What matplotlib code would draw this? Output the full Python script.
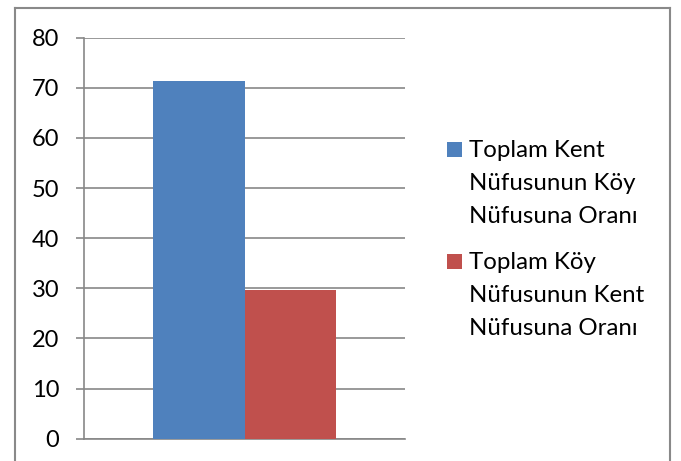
import matplotlib.pyplot as plt
from matplotlib.lines import Line2D
from matplotlib.patches import Rectangle

plt.rcParams['font.family'] = ['Lato', 'DejaVu Sans']

series = ['Toplam Kent\nNüfusunun Köy\nNüfusuna Oranı',
          'Toplam Köy\nNüfusunun Kent\nNüfusuna Oranı']
values = [71.3, 29.7]
colors = ['#4F81BD', '#C0504D']
yticks = [0, 10, 20, 30, 40, 50, 60, 70, 80]

W, H = 681, 461
fig = plt.figure(figsize=(W / 100, H / 100), dpi=100)
ax = fig.add_axes([84 / W, 1 - 438.7 / H, 321 / W, 401 / H])

bw = 91.5 / 321
for i, (lab, v, c) in enumerate(zip(series, values, colors)):
    ax.bar(0.5 + (i - 0.5) * bw, v, width=bw, color=c, label=lab, zorder=3)

ax.set_xlim(0, 1)
ax.set_ylim(0, 80)
ax.set_yticks(yticks)
ax.set_xticks([])
ax.grid(axis='y', color='#878787', linewidth=1.2, zorder=0)
for s in ['top', 'right']:
    ax.spines[s].set_visible(False)
ax.spines['left'].set_color('#878787')
ax.spines['bottom'].set_color('#878787')
ax.spines['left'].set_linewidth(1.2)
ax.spines['bottom'].set_linewidth(1.2)
ax.tick_params(axis='y', length=5.8, width=1.2, color='#878787', pad=12,
               labelsize=17, labelcolor='black')

# legend: square sits on the first line of each wrapped label
fs = 17.3
for i, (lab, c) in enumerate(zip(series, colors)):
    base = 156.7 + 112 * i
    fig.add_artist(Rectangle((447 / W, 1 - base / H), 15 / W, 14.5 / H,
                             transform=fig.transFigure, color=c, lw=0))
    for j, line in enumerate(lab.split('\n')):
        fig.text(469 / W, 1 - (base + 33 * j) / H, line, fontsize=fs,
                 va='baseline', ha='left', color='black')

# outer chart border (bottom edge is cut off in the original)
bc = '#898989'
fig.add_artist(Line2D([15 / W, 15 / W], [0, 1 - 8 / H], color=bc, lw=1.5))
fig.add_artist(Line2D([15 / W, 670 / W], [1 - 8 / H, 1 - 8 / H], color=bc, lw=1.5))
fig.add_artist(Line2D([670 / W, 670 / W], [0, 1 - 8 / H], color=bc, lw=1.5))

fig.savefig('out.png', dpi=100)
